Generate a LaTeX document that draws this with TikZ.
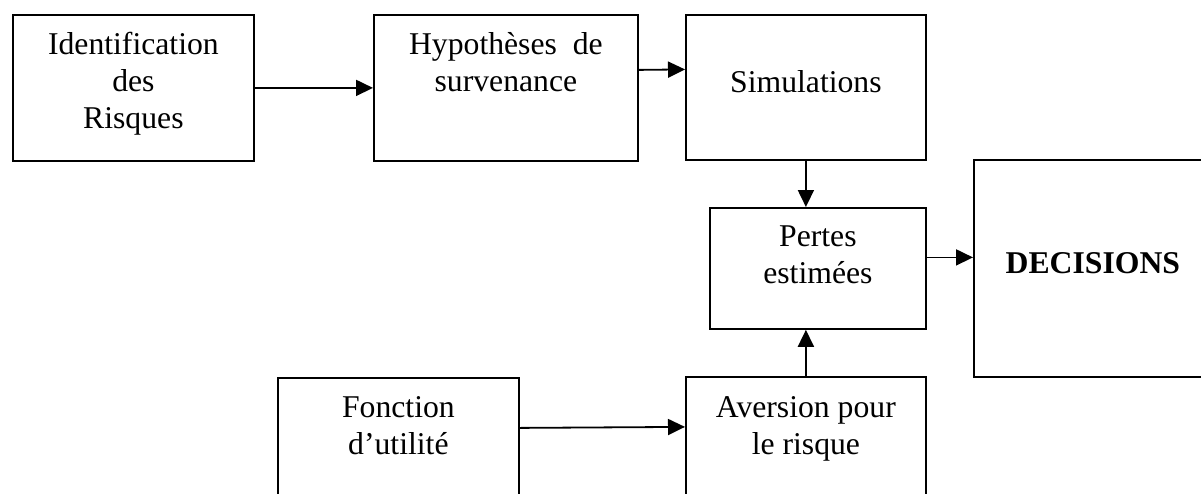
\documentclass[tikz,border=0pt]{standalone}
\usepackage{fontspec}
\setmainfont{Liberation Serif}
\usetikzlibrary{arrows.meta}

\newcommand{\boxtext}[4][40pt]{\parbox[t][#3][t]{#2}{\centering\rule{0pt}{#1}#4}}

\tikzset{
  blockbox/.style={draw, line width=1.8pt, inner sep=0pt, anchor=north west,
    font=\fontsize{31.7}{37}\selectfont},
  arr/.style={line width=1.8pt, -{Triangle[length=17pt,width=16pt]}}
}

\begin{document}
\begin{tikzpicture}[x=1pt,y=-1pt]
  \useasboundingbox (0,0) rectangle (1201,493);
  \clip (0,0) rectangle (1201,493);

  \node[blockbox] (risques) at (12,14) {\boxtext{241pt}{146pt}{Identification\\des\\Risques}};
  \node[blockbox] (hypotheses) at (373,14) {\boxtext{264pt}{146pt}{Hypothèses~ de\\survenance}};
  \node[blockbox] (simulations) at (685,14) {\boxtext[78pt]{240pt}{145pt}{Simulations}};
  \node[blockbox] (pertes) at (709,207) {\boxtext[39pt]{216pt}{121pt}{Pertes\\estimées}};
  \node[blockbox] (decisions) at (973,159) {\boxtext[114pt]{238pt}{217pt}{\textbf{DECISIONS}}};
  \node[blockbox] (fonction) at (277,377) {\boxtext{241pt}{130pt}{Fonction\\d’utilité}};
  \node[blockbox] (aversion) at (685,376) {\boxtext[41pt]{240pt}{130pt}{Aversion pour\\le risque}};

  \draw[arr] (risques.east) -- (hypotheses.west);
  \draw[arr] ([yshift=18pt]hypotheses.east) -- ([yshift=18pt]simulations.west);
  \draw[arr] (simulations.south) -- (simulations.south |- pertes.north);
  \draw[arr] ([yshift=11pt]pertes.east) -- ([yshift=11pt]decisions.west);
  \draw[arr] ([yshift=15pt]fonction.east) -- ([yshift=15pt]aversion.west);
  \draw[arr] (aversion.north) -- (aversion.north |- pertes.south);
\end{tikzpicture}
\end{document}
